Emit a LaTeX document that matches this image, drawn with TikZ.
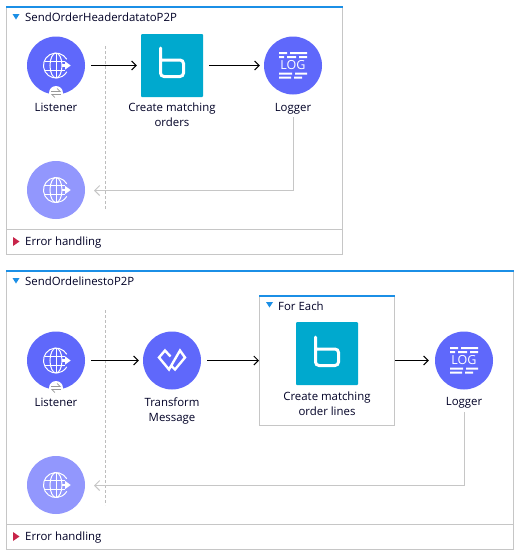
\documentclass[tikz,border=0pt]{standalone}
\usepackage{fontspec}
\setmainfont{Open Sans}
\usetikzlibrary{arrows.meta}
\definecolor{flowblue}{HTML}{1B8FE6}
\definecolor{framegray}{HTML}{C6C6C6}
\definecolor{dashgray}{HTML}{BDBDBD}
\definecolor{circleblue}{HTML}{5F68FB}
\definecolor{paleblue}{HTML}{9297FD}
\definecolor{tealbox}{HTML}{00A9CE}
\definecolor{errorred}{HTML}{C8254A}
\tikzset{
	frame/.style={draw=framegray, line width=1pt, fill=white},
	topline/.style={draw=flowblue, line width=1.6pt},
	split/.style={draw=framegray, line width=1pt},
	flowarrow/.style={->, >={Straight Barb[length=4.5pt,width=9pt]}, line width=1pt, shorten <=6pt, shorten >=4pt},
	backarrow/.style={->, >={Straight Barb[length=5pt,width=10pt]}, draw=framegray, line width=1pt},
	divide/.style={draw=dashgray, line width=0.8pt, dash pattern=on 3pt off 2pt},
	syncline/.style={->, >={Straight Barb[length=3pt,width=6pt,left]}, draw=black!40, line width=0.7pt},
	procnode/.style={circle, fill=circleblue, minimum size=58pt, inner sep=0pt},
	endnode/.style={circle, fill=paleblue, minimum size=58pt, inner sep=0pt},
	tealnode/.style={fill=tealbox, rounded corners=1pt, minimum width=62pt, minimum height=63pt, inner sep=0pt},
	badge/.style={circle, fill=white, minimum size=14pt, inner sep=0pt},
	caption/.style={font=\fontsize{11.4}{15}\selectfont, align=center, anchor=north, inner sep=0pt, text=black!85!blue},
	heading/.style={font=\fontsize{11.4}{15}\selectfont, anchor=west, inner sep=0pt, text=black!85!blue},
	openmark/.style={fill=flowblue},
	closedmark/.style={fill=errorred},
	pics/globeicon/.style={code={
		\draw[white, line width=1pt] (10.8,-6.2) arc (30:330:12.5pt);
		\draw[white, line width=1pt] (0,-12.5) -- (0,12.5);
		\draw[white, line width=1pt] (0,-12.5) arc (90:270:6pt and 12.5pt);
		\draw[white, line width=1pt] (0,-12.5) arc (90:-90:6pt and 12.5pt);
		\draw[white, line width=1pt] (-11.5,-4.5) -- (9,-4.5) (-11.5,4.5) -- (9,4.5);
		\draw[white, line width=2.5pt] (5.7,0) -- (9.5,0);
		\fill[white] (9,-4.2) -- (14.7,0) -- (9,4.2) -- cycle;
	}},
	pics/logicon/.style={code={
		\fill[white] (-14,-13.5) rectangle (-6,-11.5) (-3,-13.5) rectangle (14,-11.5);
		\fill[white] (-14,-9.5) rectangle (-9,-7.5) (-6,-9.5) rectangle (3,-7.5) (6,-9.5) rectangle (14,-7.5);
		\fill[white] (-14,7) rectangle (-1,9) (2,7) rectangle (14,9);
		\fill[white] (-14,11) rectangle (-2,13) (1,11) rectangle (9,13);
		\node[white, font=\fontsize{12.5}{12.5}\selectfont, inner sep=0pt] (logtext) at (0,0) {LOG};
	}},
	pics/bicon/.style={code={
		\draw[white, line width=3pt, line cap=round, rounded corners=3.5pt] (-11.5,-16.5) -- (-11.5,12) -- (11.5,12) -- (11.5,-4.5) -- (-11.5,-4.5);
	}},
	pics/transformicon/.style={code={
		\draw[white, line width=2.4pt, line join=miter] (-1.5,-4) -- (-7,-10) -- (-13,-3) -- (-3,9) -- (8,-10) -- (13,-3) -- (3,9) -- (-0.5,5.5);
	}}
}
\begin{document}
\begin{tikzpicture}[x=1pt, y=-1pt]
	\useasboundingbox (0,0) rectangle (523,557);
	\fill[white] (0,0) rectangle (523,557);
	% upper flow
	\draw[frame] (6.5,7) rectangle (342,254);
	\draw[topline] (6,7) -- (342.5,7);
	\draw[split] (6.5,229) -- (342,229);
	\fill[openmark] (12.5,14) -- (19.5,14) -- (16,19.5) -- cycle;
	\node[heading] (titleA) at (25,17) {SendOrderHeaderdatatoP2P};
	\fill[closedmark] (13,237) -- (19.5,241.5) -- (13,246) -- cycle;
	\node[heading] (errorA) at (25,243) {Error handling};
	\coordinate (dashtopA) at (105,46);
	\coordinate (dashbotA) at (105,210);
	\draw[divide] (dashtopA) -- (dashbotA);
	\node[procnode] (listenerA) at (56,65.5) {};
	\pic at (listenerA) {globeicon};
	\node[badge] (syncA) at (56,93) {};
	\draw[syncline] (51,91.5) -- (61,91.5);
	\draw[syncline] (61,94.5) -- (51,94.5);
	\node[caption] (listenerlabelA) at (56,103) {Listener};
	\node[tealnode] (matchA) at (172,65.5) {};
	\pic at (matchA) [yshift=1pt] {bicon};
	\node[caption] (matchlabelA) at (172,103) {Create matching\\orders};
	\node[procnode] (loggerA) at (293,65.5) {};
	\pic at (loggerA) {logicon};
	\node[caption] (loggerlabelA) at (293,103) {Logger};
	\node[endnode] (replyA) at (56,190) {};
	\pic at (replyA) {globeicon};
	\coordinate (backA) at (293,117);
	\coordinate (cornerA) at (293,190.5);
	\coordinate (tipA) at (94,190.5);
	\draw[flowarrow] (listenerA) -- (matchA);
	\draw[flowarrow] (matchA) -- (loggerA);
	\draw[backarrow] (backA) -- (cornerA) -- (tipA);
	% lower flow
	\draw[frame] (6.5,271) rectangle (513,549);
	\draw[topline] (6,271) -- (513.5,271);
	\draw[split] (6.5,524) -- (513,524);
	\fill[openmark] (12.5,278) -- (19.5,278) -- (16,283.5) -- cycle;
	\node[heading] (titleB) at (25,281) {SendOrdelinestoP2P};
	\fill[closedmark] (13,532) -- (19.5,536.5) -- (13,541) -- cycle;
	\node[heading] (errorB) at (25,538) {Error handling};
	\coordinate (dashtopB) at (105,310);
	\coordinate (dashbotB) at (105,505);
	\draw[divide] (dashtopB) -- (dashbotB);
	\node[procnode] (listenerB) at (56,360.5) {};
	\pic at (listenerB) {globeicon};
	\node[badge] (syncB) at (56,388) {};
	\draw[syncline] (51,386.5) -- (61,386.5);
	\draw[syncline] (61,389.5) -- (51,389.5);
	\node[caption] (listenerlabelB) at (56,397.5) {Listener};
	\node[procnode] (transform) at (172,360.5) {};
	\pic at (transform) {transformicon};
	\node[caption] (transformlabel) at (172,397.5) {Transform\\Message};
	\node[frame, minimum width=135pt, minimum height=129pt, inner sep=0pt] (foreach) at (327,360.5) {};
	\draw[topline] (259,296) -- (395,296);
	\fill[openmark] (266,302) -- (273,302) -- (269.5,307.5) -- cycle;
	\node[heading] (foreachlabel) at (278,306) {For Each};
	\node[tealnode] (matchB) at (327,353.5) {};
	\pic at (matchB) {bicon};
	\node[caption] (matchlabelB) at (327,391.5) {Create matching\\order lines};
	\node[procnode] (loggerB) at (464,360.5) {};
	\pic at (loggerB) {logicon};
	\node[caption] (loggerlabelB) at (464,397.5) {Logger};
	\node[endnode] (replyB) at (56,485) {};
	\pic at (replyB) {globeicon};
	\coordinate (backB) at (464,412);
	\coordinate (cornerB) at (464,485.5);
	\coordinate (tipB) at (94,485.5);
	\draw[flowarrow] (listenerB) -- (transform);
	\draw[flowarrow, shorten >=0pt] (transform) -- (foreach);
	\draw[flowarrow, shorten <=0pt, shorten >=6pt] (foreach) -- (loggerB);
	\draw[backarrow] (backB) -- (cornerB) -- (tipB);
\end{tikzpicture}
\end{document}
